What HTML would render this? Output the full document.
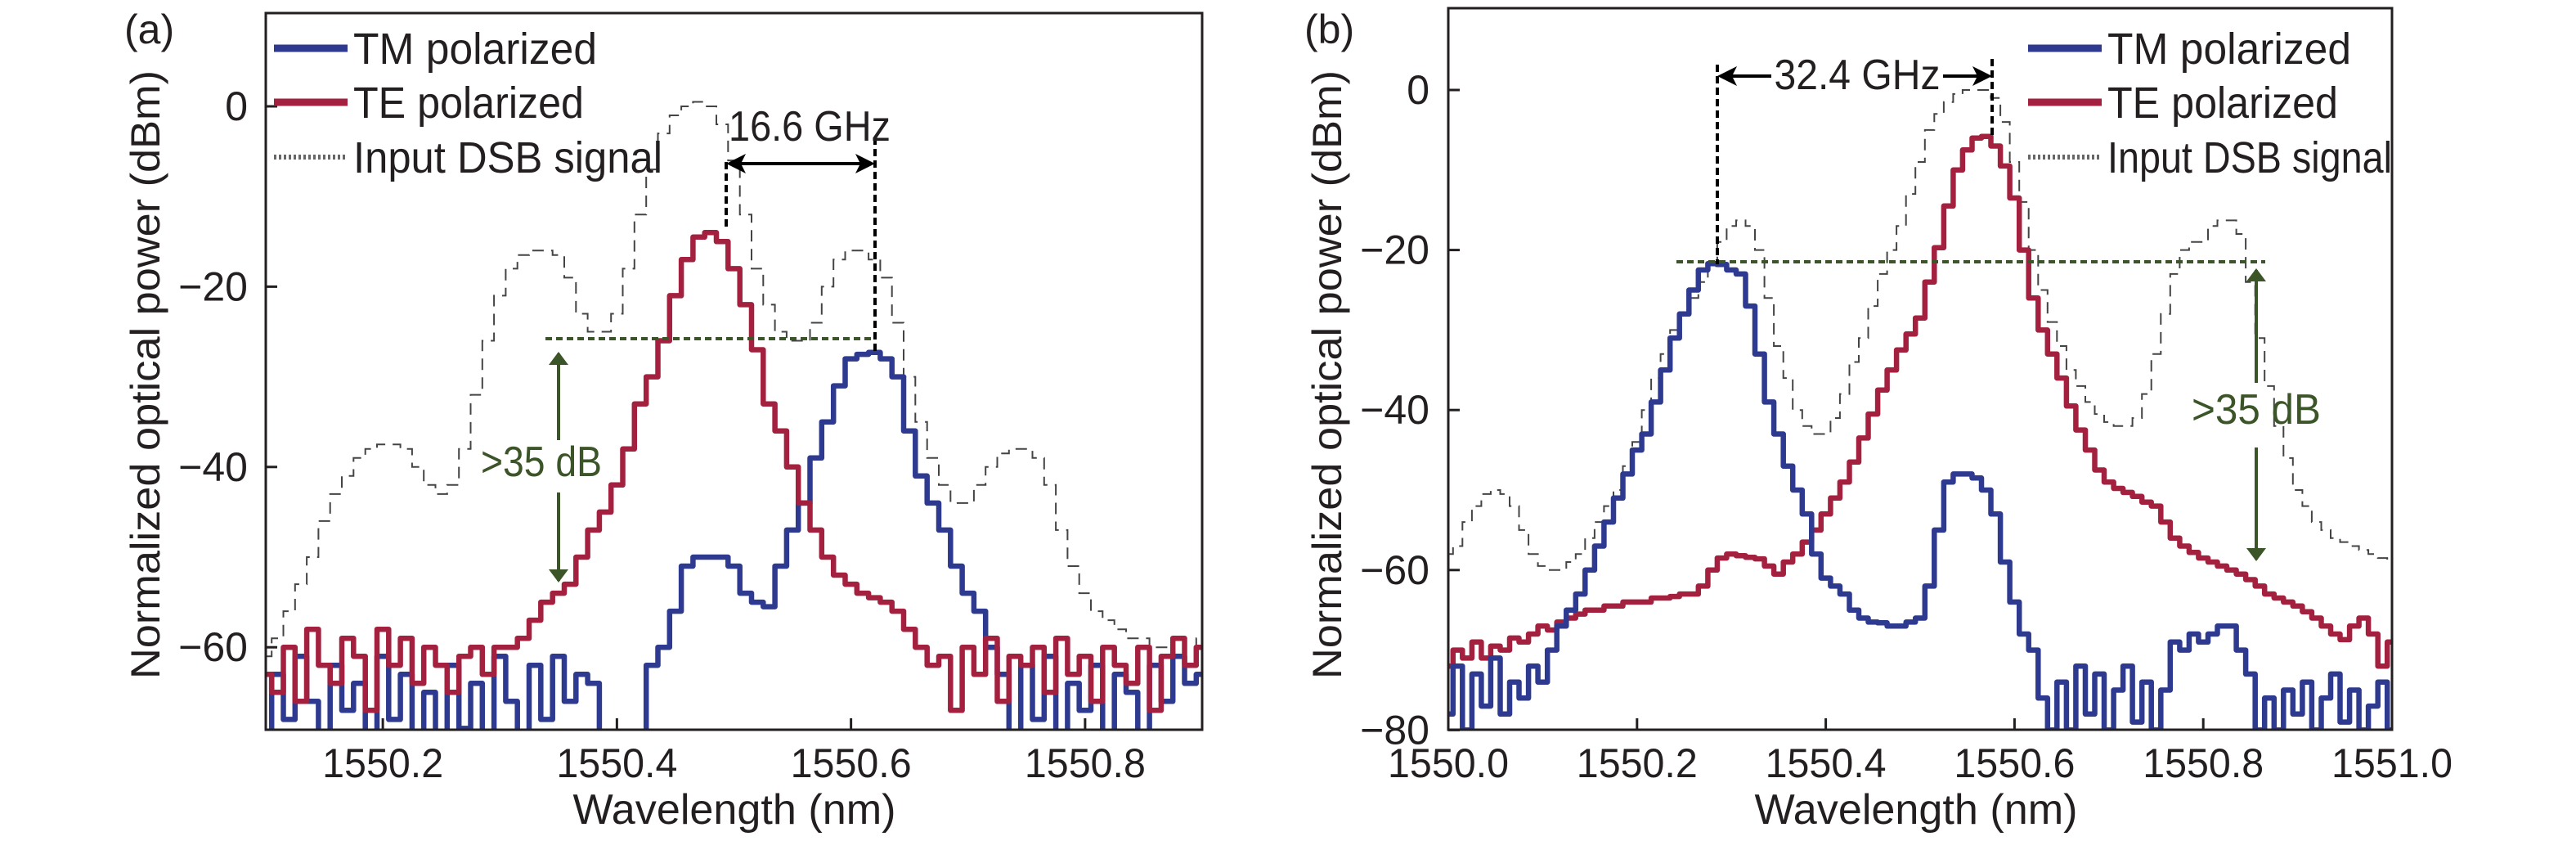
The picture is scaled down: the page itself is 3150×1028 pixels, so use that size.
<!DOCTYPE html>
<html><head><meta charset="utf-8"><style>
html,body{margin:0;padding:0;background:#fff;}
svg{display:block;font-family:"Liberation Sans",sans-serif;}
</style></head><body>
<svg id="chart" width="3150" height="1028" viewBox="0 0 3150 1028" xmlns="http://www.w3.org/2000/svg">
<defs>
<clipPath id="clipA"><rect x="325" y="16" width="1145" height="876"/></clipPath>
<clipPath id="clipB"><rect x="1771" y="10" width="1154" height="882"/></clipPath>
</defs>
<g id="panelA"></g>
<g id="panelB"></g>
</svg>
<script>
// ---- Panel (a) data ----
const xA = [];
for (let i = 0; i <= 80; i++) xA.push(1550.10 + i * 0.01);
const dsbA = [-61,-59,-56,-53,-50,-46,-43,-41,-39,-38,-37.5,-37.5,-38,-40,-42,-43,-42,-38,-32,-26,-21,-18,-16.5,-16,-16,-16.5,-19,-23,-25,-25,-23,-18,-12,-7,-3,-1,0,0.5,0,-2,-6,-12,-18,-22,-25,-26,-26,-24,-20,-17,-16,-16,-17,-19,-24,-30,-35,-39,-42,-44,-44,-42,-40,-38.5,-38,-38,-39,-42,-47,-51,-54,-56,-57,-58,-59,-59,-60,-60,-59,-60,-59];
const teA = [-63,-65,-60,-66,-58,-62,-64,-59,-61,-67,-58,-62,-59,-64,-60,-62,-65,-61,-60,-63,-60,-60,-59,-57,-55,-54,-53,-50,-47,-45,-42,-38,-33,-30,-26,-21,-17,-14.5,-14,-15,-18,-22,-27,-33,-36,-40,-44,-47,-50,-52,-53,-54,-54.5,-55,-56,-58,-60,-62,-61,-67,-60,-63,-59,-66,-61,-62,-60,-65,-59,-63,-61,-66,-60,-62,-64,-60,-67,-61,-59,-62,-60];
const tmA = [-70,-63,-68,-61,-66,-70,-62,-67,-64,-70,-61,-68,-63,-70,-65,-70,-62,-69,-64,-70,-61,-66,-70,-62,-68,-61,-66,-63,-64,-70,-70,-70,-70,-62,-60,-56,-51,-50,-50,-50,-51,-54,-55,-55.5,-51,-47,-44,-39,-35,-31,-28,-27.5,-27.3,-28,-30,-36,-41,-44,-47,-51,-54,-56,-60,-63,-70,-62,-68,-61,-70,-64,-67,-62,-70,-63,-65,-70,-62,-66,-61,-64,-63];
const xTicksA = [1550.2,1550.4,1550.6,1550.8];
const xTickLabelsA = ["1550.2","1550.4","1550.6","1550.8"];
const yTicksA = [0,-20,-40,-60];
const yTickLabelsA = ["0","\u221220","\u221240","\u221260"];

// ---- Panel (b) data ----
const xB = [];
for (let i = 0; i <= 100; i++) xB.push(1550.00 + i * 0.01);
const dsbB = [-58,-57,-54,-52,-50.5,-50,-50.5,-52,-55,-58,-59.5,-60,-60,-59,-58,-56,-54,-52,-50,-47,-44,-40,-36,-33,-30,-28,-26,-24,-22,-19,-17,-16.3,-17,-20,-26,-32,-36,-40,-42,-43,-43,-41,-38,-34,-31,-27,-23,-20,-17,-13,-9,-5,-3,-1.5,-0.5,0,0,0,-1,-4,-9,-14,-20,-25,-29,-32,-35,-37,-39,-40.5,-41.5,-42,-42,-41,-38,-33,-28,-23,-20,-19,-19,-17,-16.3,-16.3,-18,-24,-31,-37,-42,-46,-50,-52,-54,-55,-56,-56.5,-57,-57.5,-58,-58.5,-59];
const tmB = [-78,-72,-80,-73,-77,-71,-78,-74,-76,-72,-74,-70,-67,-65,-63,-60,-57,-54,-51,-48,-45,-43,-39,-35,-31,-28,-25,-22.5,-21.7,-21.8,-22.5,-23,-27,-33,-39,-43,-47,-50,-53,-58,-61,-62,-63,-65,-66,-66.5,-66.6,-67,-67,-66.5,-66,-62,-55,-49,-48,-48,-48.5,-50,-53,-59,-64,-68,-70,-76,-80,-74,-80,-72,-78,-73,-80,-75,-72,-79,-74,-80,-75,-69,-70,-68,-69,-68,-67,-67,-70,-73,-80,-76,-80,-75,-78,-74,-80,-76,-73,-79,-75,-80,-77,-74,-80];
const teB = [-72,-70,-71,-69,-71,-69.5,-70,-68.5,-69,-68,-67,-67.5,-66.5,-66,-65.5,-65,-65,-64.5,-64.5,-64,-64,-64,-63.5,-63.5,-63.3,-63,-63,-62,-60,-58.5,-58,-58.2,-58.4,-58.6,-59.5,-60.5,-59,-58,-56.5,-55,-53,-51,-49,-46.5,-43.5,-40.5,-37.5,-35,-32.5,-30.5,-28.5,-24,-19.7,-14.5,-10,-7.5,-6,-5.8,-7,-9.5,-13.5,-20,-26,-30,-33,-36,-39.5,-42.5,-45,-47.5,-49,-49.8,-50.3,-50.8,-51.5,-52,-54,-56,-57,-57.8,-58.5,-59,-59.5,-60,-60.5,-61.2,-62,-63,-63.5,-64,-64.5,-65.2,-66,-67,-68,-68.7,-67,-66,-68,-72,-69];
const xTicksB = [1550.0,1550.2,1550.4,1550.6,1550.8,1551.0];
const xTickLabelsB = ["1550.0","1550.2","1550.4","1550.6","1550.8","1551.0"];
const yTicksB = [0,-20,-40,-60,-80];
const yTickLabelsB = ["0","\u221220","\u221240","\u221260","\u221280"];

const NS = "http://www.w3.org/2000/svg";
function mk(parent, tag, attrs, text) {
  const e = document.createElementNS(NS, tag);
  for (const k in attrs) e.setAttribute(k, attrs[k]);
  if (text !== undefined) e.textContent = text;
  parent.appendChild(e);
  return e;
}
function stepPath(xs, ys, sx, sy) {
  let d = "M" + sx(xs[0]).toFixed(1) + "," + sy(ys[0]).toFixed(1);
  for (let i = 1; i < xs.length; i++) {
    const xm = sx((xs[i - 1] + xs[i]) / 2);
    d += " H" + xm.toFixed(1) + " V" + sy(ys[i]).toFixed(1);
  }
  d += " H" + sx(xs[xs.length - 1]).toFixed(1);
  return d;
}

function drawPanel(g, cfg) {
  const sx = v => cfg.px0 + (v - cfg.x0) / (cfg.x1 - cfg.x0) * (cfg.px1 - cfg.px0);
  const sy = v => cfg.py0 + (cfg.y0 - v) * cfg.pyPerDb;
  const data = mk(g, "g", {"clip-path": "url(#" + cfg.clip + ")"});
  
  
  const dsb = mk(data, "path", {d: stepPath(cfg.xs, cfg.dsb, sx, sy), fill: "none", stroke: "#444", "stroke-width": 2, "stroke-dasharray": "14 9"});
  
  
  const tm = mk(data, "path", {d: stepPath(cfg.xs, cfg.tm, sx, sy), fill: "none", stroke: "#2d3a8f", "stroke-width": 6.5, "stroke-linejoin": "round"});
  
  
  const te = mk(data, "path", {d: stepPath(cfg.xs, cfg.te, sx, sy), fill: "none", stroke: "#a3203f", "stroke-width": 6.5, "stroke-linejoin": "round"});
  
  
  if (cfg.teOnTop === false) data.appendChild(tm);

  const fr = mk(g, "rect", {x: cfg.px0, y: cfg.top, width: cfg.px1 - cfg.px0, height: cfg.bottom - cfg.top, fill: "none", stroke: "#231f20", "stroke-width": 3});
  
  
  cfg.xTicks.forEach((t, i) => {
    const x = sx(t);
    const tk = mk(g, "line", {x1: x, x2: x, y1: cfg.bottom, y2: cfg.bottom - 14, stroke: "#231f20", "stroke-width": 3});
    
    
    const lb = mk(g, "text", {x: x, y: 950, "font-size": 50, "text-anchor": "middle", fill: "#231f20", textLength: 148, lengthAdjust: "spacingAndGlyphs"}, cfg.xLabels[i]);
    
    
  });
  cfg.yTicks.forEach((t, i) => {
    const y = sy(t);
    const tk = mk(g, "line", {x1: cfg.px0, x2: cfg.px0 + 14, y1: y, y2: y, stroke: "#231f20", "stroke-width": 3});
    
    
    const lb = mk(g, "text", {x: cfg.yLabelRight, y: y + 17, "font-size": 50, "text-anchor": "end", fill: "#231f20"}, cfg.yLabels[i]);
    
    
  });
}

const gA = document.getElementById("panelA");
drawPanel(gA, {xs: xA, dsb: dsbA, te: teA, tm: tmA, x0: 1550.1, x1: 1550.9, px0: 325, px1: 1470,
  y0: 0, py0: 130, pyPerDb: 11.02, top: 16, bottom: 892, clip: "clipA",
  xTicks: xTicksA, xLabels: xTickLabelsA, yTicks: yTicksA, yLabels: yTickLabelsA, yLabelRight: 303});
const gB = document.getElementById("panelB");
drawPanel(gB, {xs: xB, dsb: dsbB, te: teB, tm: tmB, x0: 1550.0, x1: 1551.0, px0: 1771, px1: 2925,
  y0: 0, py0: 110, pyPerDb: 9.78, top: 10, bottom: 892, clip: "clipB", teOnTop: false,
  xTicks: xTicksB, xLabels: xTickLabelsB, yTicks: yTicksB, yLabels: yTickLabelsB, yLabelRight: 1748});
</script>
<svg style="position:absolute;left:0;top:0" width="3150" height="1028" viewBox="0 0 3150 1028" xmlns="http://www.w3.org/2000/svg" font-family="Liberation Sans, sans-serif">
<defs>
<marker id="mk" markerWidth="6" markerHeight="6" refX="5" refY="3" orient="auto-start-reverse"><path d="M0,0 L6,3 L0,6 L1.5,3 Z" fill="#000"/></marker>
<marker id="mg" markerWidth="4" markerHeight="6" refX="3.5" refY="3" orient="auto-start-reverse"><path d="M0,0 L4,3 L0,6 Z" fill="#3b5528"/></marker>
</defs>
<text x="152" y="53" font-size="50" fill="#231f20">(a)</text>
<text transform="translate(195,458) rotate(-90)" font-size="50" text-anchor="middle" fill="#231f20" textLength="744" lengthAdjust="spacingAndGlyphs">Normalized optical power (dBm)</text>
<text x="898" y="1007" font-size="52" text-anchor="middle" fill="#231f20" textLength="395" lengthAdjust="spacingAndGlyphs">Wavelength (nm)</text>
<g>
<line x1="335" x2="425" y1="59" y2="59" stroke="#2d3a8f" stroke-width="9"/>
<text x="432" y="78" font-size="54" fill="#231f20" textLength="298" lengthAdjust="spacingAndGlyphs">TM polarized</text>
<line x1="335" x2="425" y1="125" y2="125" stroke="#a3203f" stroke-width="9"/>
<text x="432" y="144" font-size="54" fill="#231f20" textLength="282" lengthAdjust="spacingAndGlyphs">TE polarized</text>
<line x1="335" x2="425" y1="192" y2="192" stroke="#666" stroke-width="6" stroke-dasharray="3 3"/>
<text x="432" y="211" font-size="54" fill="#231f20" textLength="378" lengthAdjust="spacingAndGlyphs">Input DSB signal</text>
</g>
<g>
<line x1="888" x2="888" y1="198" y2="280" stroke="#000" stroke-width="4" stroke-dasharray="9 5"/>
<line x1="1070" x2="1070" y1="168" y2="432" stroke="#000" stroke-width="4" stroke-dasharray="9 5"/>
<line x1="892" x2="1066" y1="200" y2="200" stroke="#000" stroke-width="4" marker-start="url(#mk)" marker-end="url(#mk)"/>
<text x="990" y="172" font-size="52" text-anchor="middle" fill="#231f20" textLength="198" lengthAdjust="spacingAndGlyphs">16.6 GHz</text>
</g>
<g>
<line x1="667" x2="1070" y1="414" y2="414" stroke="#3b5528" stroke-width="4" stroke-dasharray="8 5"/>
<line x1="683" x2="683" y1="432" y2="538" stroke="#3b5528" stroke-width="4" marker-start="url(#mg)"/>
<line x1="683" x2="683" y1="602" y2="710" stroke="#3b5528" stroke-width="4" marker-end="url(#mg)"/>
<text x="588" y="582" font-size="52" fill="#3b5528" textLength="148" lengthAdjust="spacingAndGlyphs">&gt;35 dB</text>
</g>
<text x="1595" y="53" font-size="50" fill="#231f20">(b)</text>
<text transform="translate(1640,458) rotate(-90)" font-size="50" text-anchor="middle" fill="#231f20" textLength="744" lengthAdjust="spacingAndGlyphs">Normalized optical power (dBm)</text>
<text x="2343" y="1007" font-size="52" text-anchor="middle" fill="#231f20" textLength="395" lengthAdjust="spacingAndGlyphs">Wavelength (nm)</text>
<g>
<line x1="2480" x2="2570" y1="59" y2="59" stroke="#2d3a8f" stroke-width="9"/>
<text x="2577" y="78" font-size="54" fill="#231f20" textLength="298" lengthAdjust="spacingAndGlyphs">TM polarized</text>
<line x1="2480" x2="2570" y1="125" y2="125" stroke="#a3203f" stroke-width="9"/>
<text x="2577" y="144" font-size="54" fill="#231f20" textLength="282" lengthAdjust="spacingAndGlyphs">TE polarized</text>
<line x1="2480" x2="2570" y1="192" y2="192" stroke="#666" stroke-width="6" stroke-dasharray="3 3"/>
<text x="2577" y="211" font-size="54" fill="#231f20" textLength="348" lengthAdjust="spacingAndGlyphs">Input DSB signal</text>
</g>
<g>
<line x1="2100" x2="2100" y1="79" y2="323" stroke="#000" stroke-width="4" stroke-dasharray="9 5"/>
<line x1="2436" x2="2436" y1="72" y2="168" stroke="#000" stroke-width="4" stroke-dasharray="9 5"/>
<line x1="2104" x2="2166" y1="93" y2="93" stroke="#000" stroke-width="4" marker-start="url(#mk)"/>
<line x1="2376" x2="2432" y1="93" y2="93" stroke="#000" stroke-width="4" marker-end="url(#mk)"/>
<text x="2271" y="109" font-size="52" text-anchor="middle" fill="#231f20" textLength="203" lengthAdjust="spacingAndGlyphs">32.4 GHz</text>
</g>
<g>
<line x1="2050" x2="2770" y1="320" y2="320" stroke="#3b5528" stroke-width="4" stroke-dasharray="8 5"/>
<line x1="2759" x2="2759" y1="330" y2="468" stroke="#3b5528" stroke-width="4" marker-start="url(#mg)"/>
<line x1="2759" x2="2759" y1="547" y2="684" stroke="#3b5528" stroke-width="4" marker-end="url(#mg)"/>
<text x="2680" y="518" font-size="52" fill="#3b5528" textLength="158" lengthAdjust="spacingAndGlyphs">&gt;35 dB</text>
</g>
</svg>
</body></html>
